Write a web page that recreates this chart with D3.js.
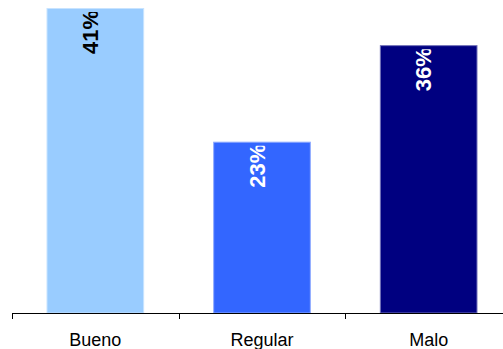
<!DOCTYPE html>
<html>
<head>
<meta charset="utf-8">
<script src="https://cdn.jsdelivr.net/npm/d3@7"></script>
<style>
  html, body { margin: 0; padding: 0; background: #fff; }
  svg { display: block; }
</style>
</head>
<body>
<svg id="chart" width="503" height="349"></svg>
<script>
// Ratings share (%)
const categories = ["Bueno", "Regular", "Malo"];
const values = [41, 23, 36];
const labels = ["41%", "23%", "36%"];
const barColors = ["#99CCFF", "#3366FF", "#000080"];
const labelColors = ["#000000", "#ffffff", "#ffffff"];

const W = 503, H = 349;
const baseY = 313;
const svg = d3.select("#chart");

const x = d3.scaleBand()
  .domain(categories)
  .range([12, 512])
  .paddingInner(0.42)
  .paddingOuter(0.21);

const y = d3.scaleLinear()
  .domain([0, 41])
  .range([baseY, 8.5]);

const data = categories.map((c, i) => ({ c, v: values[i], label: labels[i], fill: barColors[i], tc: labelColors[i] }));

// clip paths so the value labels stay inside the bar tops
const defs = svg.append("defs");
data.forEach((d, i) => {
  defs.append("clipPath").attr("id", "clip" + i)
    .append("rect")
    .attr("x", x(d.c))
    .attr("y", y(d.v) + 3.5)
    .attr("width", x.bandwidth())
    .attr("height", baseY - y(d.v));
});

// bars
svg.append("g").selectAll("rect")
  .data(data)
  .join("rect")
  .attr("x", d => x(d.c))
  .attr("y", d => y(d.v))
  .attr("width", x.bandwidth())
  .attr("height", d => baseY - y(d.v))
  .attr("fill", d => d.fill)
  .attr("stroke", d => d3.interpolateRgb(d.fill, "#ffffff")(0.45))
  .attr("stroke-width", 1);

// rotated value labels
svg.append("g").selectAll("g")
  .data(data)
  .join("g")
  .attr("clip-path", (d, i) => `url(#clip${i})`)
  .append("text")
  .attr("transform", d => `translate(${x(d.c) + x.bandwidth() / 2 + 2.5},${y(d.v) + 1.5}) rotate(-90)`)
  .attr("text-anchor", "end")
  .attr("font-family", "Liberation Sans, Arial, sans-serif")
  .attr("font-weight", "bold")
  .attr("font-size", 22)
  .attr("fill", d => d.tc)
  .text(d => d.label);

// category axis: baseline with tick marks at band boundaries
const axis = svg.append("g");
axis.append("line")
  .attr("x1", x.range()[0]).attr("x2", W)
  .attr("y1", baseY + 0.5).attr("y2", baseY + 0.5)
  .attr("stroke", "#000").attr("stroke-width", 1);

const boundaries = categories.map((c, i) => x.range()[0] + i * x.step());
axis.selectAll("line.tick")
  .data(boundaries)
  .join("line")
  .attr("class", "tick")
  .attr("x1", d => Math.round(d) + 0.5).attr("x2", d => Math.round(d) + 0.5)
  .attr("y1", baseY).attr("y2", baseY + 6)
  .attr("stroke", "#000").attr("stroke-width", 1);

axis.selectAll("text")
  .data(categories)
  .join("text")
  .attr("x", d => x(d) + x.bandwidth() / 2)
  .attr("y", 346)
  .attr("text-anchor", "middle")
  .attr("font-family", "Liberation Sans, Arial, sans-serif")
  .attr("font-size", 18)
  .attr("fill", "#000")
  .text(d => d);
</script>
</body>
</html>
